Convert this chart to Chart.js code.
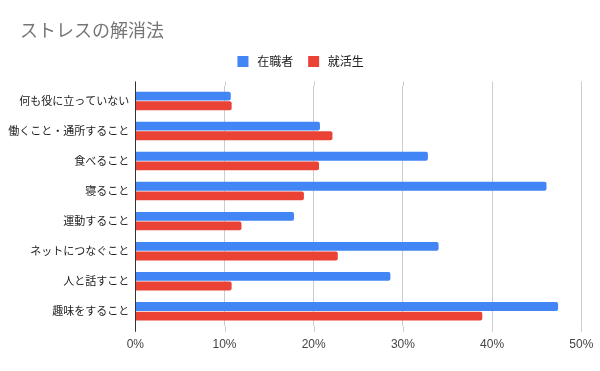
<!DOCTYPE html>
<html>
<head>
<meta charset="utf-8">
<script src="https://cdn.jsdelivr.net/npm/chart.js@4"></script>
<style>
html,body{margin:0;padding:0;background:#fff;}
#wrap{width:600px;height:371px;}
</style>
</head>
<body>
<div id="wrap"><canvas id="c" width="600" height="371"></canvas></div>
<script>
const chartTitle = 'ストレスの解消法';
const categories = ['何も役に立っていない', '働くこと・通所すること', '食べること', '寝ること', '運動すること', 'ネットにつなぐこと', '人と話すこと', '趣味をすること'];
const seriesNames = ['在職者', '就活生'];
const workers = [10.7, 20.7, 32.8, 46.1, 17.8, 34.0, 28.6, 47.4];
const jobSeekers = [10.8, 22.1, 20.6, 18.9, 11.9, 22.7, 10.8, 38.9];
const tickValues = [0, 10, 20, 30, 40, 50];

const JP = '"Noto Sans CJK JP", "Liberation Sans", sans-serif';
const LAT = '"Liberation Sans", "Noto Sans CJK JP", sans-serif';

const legendMargin = {
  id: 'legendMargin',
  beforeInit(chart) {
    const fit = chart.legend.fit;
    chart.legend.fit = function () { fit.bind(chart.legend)(); this.height += 8.3; };
  },
  afterLayout(chart) {
    if (chart.titleBlock) chart.titleBlock.left = 20;
    if (chart.legend) { chart.legend.left = 20; if (chart.legend.adjustHitBoxes) chart.legend.adjustHitBoxes(); }
  }
};
const gridExtend = {
  id: 'gridExtend',
  afterDraw(chart) {
    const {ctx, chartArea, scales} = chart;
    const xs = scales.x;
    ctx.save();
    ctx.lineWidth = 1;
    ctx.strokeStyle = '#cccccc';
    xs.ticks.forEach((t, i) => {
      if (i === 0) return;
      const px = Math.round(xs.getPixelForValue(t.value)) + 0.5;
      ctx.beginPath();
      ctx.moveTo(px, chartArea.top - 4.5); ctx.lineTo(px, chartArea.top);
      ctx.moveTo(px, chartArea.bottom); ctx.lineTo(px, chartArea.bottom + 5.5);
      ctx.stroke();
    });
    ctx.strokeStyle = '#333333';
    const x0 = Math.round(xs.getPixelForValue(0)) + 0.5;
    ctx.beginPath();
    ctx.moveTo(x0, chartArea.top - 4.5); ctx.lineTo(x0, chartArea.bottom + 5.5);
    ctx.stroke();
    ctx.restore();
  }
};

new Chart(document.getElementById('c'), {
  type: 'bar',
  data: {
    labels: categories,
    datasets: [
      {label: seriesNames[0], data: workers, backgroundColor: '#4285F4', borderRadius: 2, borderSkipped: 'start', categoryPercentage: 0.64, barPercentage: 0.92},
      {label: seriesNames[1], data: jobSeekers, backgroundColor: '#EA4335', borderRadius: 2, borderSkipped: 'start', categoryPercentage: 0.64, barPercentage: 0.92}
    ]
  },
  options: {
    indexAxis: 'y',
    responsive: false,
    animation: false,
    devicePixelRatio: 1,
    layout: {padding: {left: 0, right: 18.7, top: 0, bottom: 0}},
    plugins: {
      title: {
        display: true, text: chartTitle, align: 'start', color: '#757575',
        font: {family: JP, size: 18, weight: 'normal'},
        padding: {top: 19, bottom: 0}
      },
      legend: {
        display: true, position: 'top', align: 'center',
        labels: {
          boxWidth: 11, boxHeight: 11, padding: 15, color: '#222222',
          font: {family: JP, size: 12},
          generateLabels(chart) {
            const items = Chart.defaults.plugins.legend.labels.generateLabels(chart);
            items.forEach(it => { it.text = ' ' + it.text; it.lineWidth = 0; it.strokeStyle = 'rgba(0,0,0,0)'; });
            return items;
          }
        }
      },
      tooltip: {enabled: false}
    },
    scales: {
      x: {
        min: 0, max: 50,
        afterBuildTicks(scale) { scale.ticks = tickValues.map(v => ({value: v})); },
        afterFit(scale) { scale.height = 44.7; scale.paddingLeft = 0; scale.paddingRight = 0; },
        grid: {color: '#cccccc', drawTicks: false, lineWidth: 1},
        border: {display: false},
        ticks: {color: '#444444', font: {family: LAT, size: 12}, padding: 11, callback: v => v + '%'}
      },
      y: {
        afterFit(scale) { scale.width = 135.3; },
        grid: {display: false, drawTicks: false},
        border: {display: true, color: '#333333', width: 1},
        ticks: {color: '#222222', font: {family: JP, size: 11}, padding: 6}
      }
    }
  },
  plugins: [legendMargin, gridExtend]
});
</script>
</body>
</html>
